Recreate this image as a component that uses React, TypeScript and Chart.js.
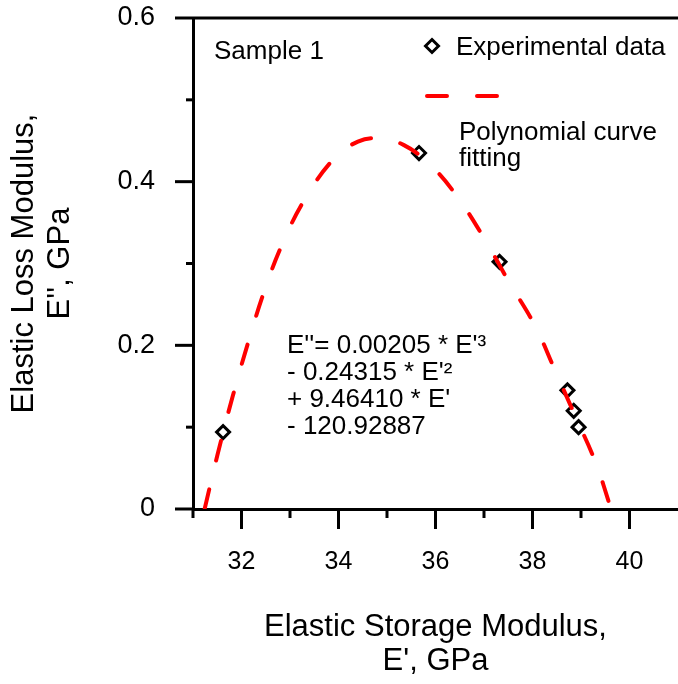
import React, { useEffect, useRef } from 'react';
import { Chart, registerables } from 'chart.js';

Chart.register(...registerables);

// ---- data ----
const expStorage = [31.62, 35.66, 37.32, 38.72, 38.85, 38.95];
const expLoss = [0.094, 0.435, 0.302, 0.145, 0.12, 0.1];

const fitStorage = [31.24, 31.5, 31.82, 32.17, 32.48, 32.85, 33.32, 33.92, 34.4, 34.8, 35.34, 35.9, 36.42, 36.99, 37.51, 38.05, 38.46, 38.87, 39.3, 39.62];
const fitLoss = [0, 0.065, 0.138, 0.21, 0.268, 0.325, 0.38, 0.429, 0.449, 0.453, 0.445, 0.42, 0.384, 0.332, 0.278, 0.224, 0.17, 0.115, 0.057, 0];

const xMajorTicks = [32, 34, 36, 38, 40];
const xTickLabels = ['32', '34', '36', '38', '40'];
const xMinorTicks = [31, 33, 35, 37, 39];
const yMajorTicks = [0, 0.2, 0.4, 0.6];
const yTickLabels = ['0', '0.2', '0.4', '0.6'];
const yMinorTicks = [0.1, 0.3, 0.5];

const xTitleLines = ['Elastic Storage Modulus,', "E', GPa"];
const yTitleLines = ['Elastic Loss Modulus,', "E'', GPa"];
const sampleLabel = 'Sample 1';
const expLegend = 'Experimental data';
const fitLegendLines = ['Polynomial curve', 'fitting'];
const equationLines = ["E''= 0.00205 * E'\u00b3", "- 0.24315 * E'\u00b2", "+ 9.46410 * E'", '- 120.92887'];

const FONT = '"Liberation Sans", Arial, Helvetica, sans-serif';

const decorPlugin = {
  id: 'decor',
  afterDraw(chart: any) {
    const { ctx, chartArea, scales } = chart;
    const xs = scales.x;
    const ys = scales.y;
    const left = chartArea.left;
    const bottom = chartArea.bottom;
    ctx.save();
    ctx.strokeStyle = '#000';
    ctx.lineWidth = 3;
    ctx.lineCap = 'butt';
    const line = (x1: number, y1: number, x2: number, y2: number) => {
      ctx.beginPath();
      ctx.moveTo(x1, y1);
      ctx.lineTo(x2, y2);
      ctx.stroke();
    };
    // top frame line
    const yTop = ys.getPixelForValue(0.6);
    line(left, yTop, chartArea.right, yTop);
    // y ticks
    yMajorTicks.forEach((v) => {
      const p = ys.getPixelForValue(v);
      line(left - 18, p, left, p);
    });
    yMinorTicks.forEach((v) => {
      const p = ys.getPixelForValue(v);
      line(left - 7, p, left, p);
    });
    // x ticks
    xMajorTicks.forEach((v) => {
      const p = xs.getPixelForValue(v);
      line(p, bottom, p, bottom + 20);
    });
    xMinorTicks.forEach((v) => {
      const p = xs.getPixelForValue(v);
      line(p, bottom, p, bottom + 9);
    });

    // texts
    ctx.fillStyle = '#000';
    ctx.textAlign = 'left';
    ctx.textBaseline = 'alphabetic';
    ctx.font = `26px ${FONT}`;
    ctx.fillText(sampleLabel, 214, 59);

    // legend: experimental data
    const dx = 432, dy = 46, r = 6.5;
    ctx.beginPath();
    ctx.moveTo(dx, dy - r);
    ctx.lineTo(dx + r, dy);
    ctx.lineTo(dx, dy + r);
    ctx.lineTo(dx - r, dy);
    ctx.closePath();
    ctx.fillStyle = '#fff';
    ctx.fill();
    ctx.lineWidth = 3;
    ctx.strokeStyle = '#000';
    ctx.stroke();
    ctx.fillStyle = '#000';
    ctx.fillText(expLegend, 456, 55);

    // legend: polynomial curve
    ctx.save();
    ctx.strokeStyle = '#ff0000';
    ctx.lineWidth = 4;
    ctx.lineCap = 'round';
    ctx.setLineDash([20, 30]);
    ctx.beginPath();
    ctx.moveTo(427, 96);
    ctx.lineTo(497, 96);
    ctx.stroke();
    ctx.restore();
    ctx.fillText(fitLegendLines[0], 459, 140);
    ctx.fillText(fitLegendLines[1], 459, 166);

    // equation
    ctx.font = `26px ${FONT}`;
    equationLines.forEach((t, i) => {
      ctx.fillText(t, 287, 353 + i * 27);
    });
    ctx.restore();
  },
};

export default function App() {
  const ref = useRef<HTMLCanvasElement | null>(null);
  useEffect(() => {
    if (!ref.current) return;
    const chart = new Chart(ref.current, {
      type: 'scatter',
      data: {
        datasets: [
          {
            label: fitLegendLines.join(' '),
            data: fitStorage.map((x, i) => ({ x, y: fitLoss[i] })),
            showLine: true,
            borderColor: '#ff0000',
            backgroundColor: '#ff0000',
            borderWidth: 4,
            borderDash: [20, 30],
            borderCapStyle: 'round',
            pointRadius: 0,
            pointHoverRadius: 0,
            tension: 0.4,
            fill: false,
            order: 0,
          } as any,
          {
            label: expLegend,
            data: expStorage.map((x, i) => ({ x, y: expLoss[i] })),
            showLine: false,
            pointStyle: 'rectRot',
            pointRadius: 6.5,
            pointBorderWidth: 3,
            borderWidth: 3,
            borderColor: '#000',
            backgroundColor: '#fff',
            order: 1,
          } as any,
        ],
      },
      options: {
        animation: false,
        responsive: false,
        devicePixelRatio: 1,
        layout: { autoPadding: false, padding: { top: 18, right: 0, left: 0, bottom: 0 } },
        plugins: { legend: { display: false }, tooltip: { enabled: false } },
        events: [],
        scales: {
          x: {
            type: 'linear',
            min: 31,
            max: 41,
            afterBuildTicks: (s: any) => {
              s.ticks = xMajorTicks.map((v) => ({ value: v }));
            },
            afterFit: (s: any) => {
              s.height = 175;
              s.paddingLeft = 0;
              s.paddingRight = 0;
            },
            ticks: {
              autoSkip: false,
              maxRotation: 0,
              padding: 0,
              color: '#000',
              font: { size: 25, family: FONT },
              callback: (_v: any, i: number) => xTickLabels[i],
            },
            grid: { display: false, drawTicks: true, tickLength: 38 },
            border: { display: true, color: '#000', width: 3 },
            title: {
              display: true,
              text: xTitleLines,
              color: '#000',
              font: { size: 31, family: FONT, lineHeight: 1.1 },
              padding: { top: 0, bottom: 5 },
            },
          },
          y: {
            type: 'linear',
            min: 0,
            max: 0.6,
            afterBuildTicks: (s: any) => {
              s.ticks = yMajorTicks.map((v) => ({ value: v }));
            },
            afterFit: (s: any) => {
              s.width = 193;
              s.paddingTop = 0;
              s.paddingBottom = 0;
            },
            ticks: {
              autoSkip: false,
              padding: 0,
              color: '#000',
              font: { size: 27, family: FONT },
              callback: (_v: any, i: number) => yTickLabels[i],
            },
            grid: { display: false, drawTicks: true, tickLength: 38 },
            border: { display: true, color: '#000', width: 3 },
            title: {
              display: true,
              text: yTitleLines,
              color: '#000',
              font: { size: 31, family: FONT, lineHeight: 1.15 },
              padding: { top: 7, bottom: 0 },
            },
          },
        },
      } as any,
      plugins: [decorPlugin],
    });
    return () => chart.destroy();
  }, []);
  return (
    <div style={{ position: 'absolute', left: 0, top: 0, width: 678, height: 684 }}>
      <canvas ref={ref} width={678} height={684} style={{ display: 'block' }} />
    </div>
  );
}
